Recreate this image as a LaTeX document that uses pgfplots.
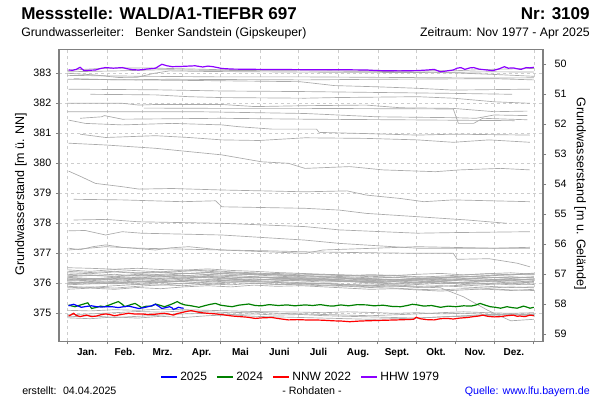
\documentclass[border=0pt]{standalone}
\usepackage{pgfplots}
\pgfplotsset{compat=1.18}
\usepackage{fontspec}
\setmainfont{Liberation Sans}
\definecolor{gl}{RGB}{170,170,170}
\definecolor{axgray}{RGB}{128,128,128}
\definecolor{gridgray}{RGB}{205,205,205}
\definecolor{hhw}{RGB}{140,0,255}
\definecolor{g24}{RGB}{0,128,0}
\definecolor{quelle}{RGB}{0,0,255}
\pgfplotsset{
  greyline/.style={gl, line width=0.5pt, forget plot},
  boxaxis/.style={
    at={(44.25pt,44.025pt)}, anchor=south west,
    scale only axis, width=363pt, height=218.85pt,
    xmin=-6.5, xmax=372.2,
    axis line style={axgray, line width=1pt, -},
    tick align=outside, major tick length=2.25pt,
    tick style={axgray, line width=0.6pt},
    tick label style={font=\fontsize{8}{9}\selectfont},
    /pgf/number format/assume math mode=true,
  }
}
\begin{document}
\begin{tikzpicture}
\useasboundingbox (0,0) rectangle (450pt,300pt);
\begin{axis}[boxaxis,
  ymin=374.067, ymax=383.793,
  ytick={375,376,377,378,379,380,381,382,383},
  xtick={0,31,59,90,120,151,181,212,243,273,304,334,365},
  xticklabels={},
  extra x ticks={15.5,45,74.5,105,135.5,166,196.5,227.5,258,288.5,319,349.5},
  extra x tick labels={Jan.,Feb.,Mrz.,Apr.,Mai,Juni,Juli,Aug.,Sept.,Okt.,Nov.,Dez.},
  extra x tick style={major tick length=0pt, grid=none, xticklabel style={font=\fontsize{7.5}{8}\selectfont\bfseries, yshift=-2pt}},
  xtick pos=bottom, ytick pos=left,
  xmajorgrids, ymajorgrids,
  grid style={gridgray, dash pattern=on 2.25pt off 2.25pt, line width=0.4pt},
  legend style={at={(0.5,-0.122)}, anchor=center, draw=none, fill=none, inner sep=0pt,
    font=\fontsize{9}{10}\selectfont, legend columns=4,
    /tikz/every even column/.append style={column sep=5pt}},
  legend image code/.code={\draw[#1] (0pt,0pt) -- (12pt,0pt);},
]
\addlegendimage{blue, line width=1pt}\addlegendentry{2025}
\addlegendimage{g24, line width=1pt}\addlegendentry{2024}
\addlegendimage{red, line width=1pt}\addlegendentry{NNW 2022}
\addlegendimage{hhw, line width=1pt}\addlegendentry{HHW 1979}
% upper grey lines
\addplot[greyline] coordinates {(0,383.10)(30,383.17)(60,383.18)(90,383.15)(120,383.12)(180,383.12)(240,383.10)(300,383.08)(330,383.13)(365,383.16)};
\addplot[greyline] coordinates {(0,383.05)(40,383.08)(75,383.12)(110,383.10)(186,383.08)(250,383.06)(300,383.03)(330,383.05)(365,383.04)};
\addplot[greyline] coordinates {(0,383.00)(20,382.95)(40,382.86)(55,382.87)(68,383.00)(80,383.08)(110,383.06)(180,383.04)(300,383.02)(340,382.95)(365,382.90)};
\addplot[greyline] coordinates {(0,382.93)(60,382.90)(120,382.88)(186,382.88)(260,382.86)(330,382.84)(365,382.85)};
\addplot[greyline] coordinates {(5,382.82)(40,382.78)(80,382.80)(186,382.78)(240,382.80)(334,382.82)(365,382.78)};
\addplot[greyline] coordinates {(0,382.80)(100,382.76)(182,382.72)(209,382.59)(242,382.55)(274,382.50)(302,382.44)(362,382.47)};
\addplot[greyline] coordinates {(1,382.47)(69,382.45)(121,382.41)(186,382.39)(302,382.33)(348,382.30)};
\addplot[greyline] coordinates {(18,382.30)(69,382.28)(95,382.22)(121,382.19)(186,382.17)(209,382.19)(274,382.22)(302,382.17)(334,382.05)(362,382.00)};
\addplot[greyline] coordinates {(0,382.00)(43,382.00)(56,381.94)(69,381.96)(121,381.96)(147,381.89)(186,381.92)(234,381.94)(261,381.85)(302,381.83)(334,381.72)(360,381.74)};
\addplot[greyline] coordinates {(0,381.72)(100,381.72)(186,381.66)(242,381.55)(302,381.52)(320,381.50)(334,381.61)(360,381.59)};
\addplot[greyline] coordinates {(60,381.84)(121,381.83)(186,381.83)(302,381.81)(306,381.33)(318,381.33)(325,381.50)(360,381.45)};
\addplot[greyline] coordinates {(10,381.50)(27,381.55)(29,381.59)(43,381.47)(121,381.50)(186,381.47)(260,381.45)(350,381.42)};
\addplot[greyline] coordinates {(1,381.44)(14,381.33)(43,381.28)(82,381.33)(121,381.28)(134,381.22)(160,381.14)(195,381.14)(197,381.03)(234,380.99)(274,380.94)(302,380.97)(362,380.94)};
\addplot[greyline] coordinates {(10,380.97)(30,380.86)(69,380.92)(95,380.86)(121,380.78)(150,380.76)(186,380.85)(234,380.83)(274,380.78)(302,380.70)(330,380.78)(362,380.70)};
\addplot[greyline] coordinates {(1,380.67)(30,380.61)(69,380.50)(95,380.39)(121,380.28)(152,380.05)(173,380.00)(186,379.83)(221,379.89)(247,379.78)(288,379.72)(307,379.78)(339,379.83)(362,379.78)};
\addplot[greyline] coordinates {(1,379.74)(11,379.55)(22,379.33)(43,379.22)(56,379.14)(82,379.16)(121,379.11)(186,379.05)(219,379.08)(234,378.94)(260,378.83)(279,378.72)(302,378.78)(362,378.72)};
\addplot[greyline] coordinates {(5,378.80)(43,378.78)(90,378.72)(116,378.75)(121,378.55)(186,378.50)(213,378.44)(234,378.33)(274,378.22)(313,378.11)(344,378.00)};
\addplot[greyline] coordinates {(5,378.11)(30,378.13)(56,378.05)(121,378.00)(186,377.89)(213,377.78)(274,377.67)(302,377.69)(362,377.72)};
\addplot[greyline] coordinates {(1,377.75)(14,377.76)(30,377.61)(43,377.72)(58,377.67)(121,377.61)(186,377.44)(213,377.33)(274,377.17)(362,377.17)};
\addplot[greyline] coordinates {(1,377.17)(10,377.12)(20,377.22)(30,377.28)(43,377.20)(69,377.11)(80,377.18)(95,377.22)(121,377.11)(160,377.08)(186,377.05)(234,377.02)(274,377.00)(302,377.00)(305,376.80)(330,376.82)(352,376.67)(362,376.55)};
\addplot[greyline] coordinates {(1,377.11)(30,377.22)(56,377.17)(90,377.14)(121,377.11)(186,377.00)(200,377.11)(274,377.22)(334,377.17)(362,377.20)};
% cluster
\addplot[greyline] coordinates {(0,376.52)(18,376.50)(37,376.47)(55,376.50)(73,376.46)(91,376.44)(110,376.48)(128,376.43)(146,376.40)(164,376.36)(183,376.33)(201,376.30)(219,376.28)(237,376.25)(256,376.27)(274,376.22)(292,376.20)(310,376.24)(329,376.21)(347,376.18)(365,376.20)};
\addplot[greyline] coordinates {(0,376.35)(18,376.32)(37,376.38)(55,376.33)(73,376.36)(91,376.40)(110,376.44)(128,376.38)(146,376.35)(164,376.30)(183,376.32)(201,376.28)(219,376.25)(237,376.29)(256,376.26)(274,376.30)(292,376.33)(310,376.28)(329,376.32)(347,376.35)(365,376.30)};
\addplot[greyline] coordinates {(0,376.25)(18,376.28)(37,376.22)(55,376.26)(73,376.30)(91,376.34)(110,376.30)(128,376.36)(146,376.32)(164,376.28)(183,376.25)(201,376.22)(219,376.18)(237,376.16)(256,376.20)(274,376.15)(292,376.18)(310,376.22)(329,376.26)(347,376.30)(365,376.28)};
\addplot[greyline] coordinates {(0,376.18)(18,376.14)(37,376.20)(55,376.16)(73,376.12)(91,376.18)(110,376.22)(128,376.26)(146,376.30)(164,376.28)(183,376.22)(201,376.20)(219,376.16)(237,376.12)(256,376.10)(274,376.14)(292,376.12)(310,376.16)(329,376.20)(347,376.18)(365,376.22)};
\addplot[greyline] coordinates {(0,376.12)(18,376.16)(37,376.10)(55,376.14)(73,376.18)(91,376.15)(110,376.20)(128,376.16)(146,376.12)(164,376.15)(183,376.18)(201,376.14)(219,376.10)(237,376.06)(256,376.08)(274,376.04)(292,376.08)(310,376.12)(329,376.10)(347,376.14)(365,376.12)};
\addplot[greyline] coordinates {(0,376.08)(18,376.10)(37,376.06)(55,376.12)(73,376.08)(91,376.14)(110,376.10)(128,376.16)(146,376.20)(164,376.18)(183,376.14)(201,376.10)(219,376.08)(237,376.05)(256,376.00)(274,376.04)(292,376.06)(310,376.02)(329,376.06)(347,376.10)(365,376.06)};
\addplot[greyline] coordinates {(0,376.15)(18,376.12)(37,376.16)(55,376.20)(73,376.24)(91,376.20)(110,376.26)(128,376.22)(146,376.18)(164,376.20)(183,376.16)(201,376.12)(219,376.14)(237,376.10)(256,376.12)(274,376.08)(292,375.98)(310,376.02)(329,376.00)(347,376.04)(365,376.02)};
\addplot[greyline] coordinates {(0,376.02)(18,376.06)(37,376.04)(55,376.00)(73,376.05)(91,376.10)(110,376.06)(128,376.12)(146,376.15)(164,376.10)(183,376.08)(201,376.12)(219,376.06)(237,376.02)(256,376.05)(274,376.00)(292,376.04)(310,375.96)(329,376.00)(347,375.95)(365,375.98)};
\addplot[greyline] coordinates {(0,375.95)(18,375.98)(37,376.00)(55,375.96)(73,376.02)(91,375.98)(110,376.04)(128,376.08)(146,376.04)(164,376.06)(183,376.02)(201,376.00)(219,375.96)(237,375.98)(256,375.94)(274,375.96)(292,376.00)(310,376.04)(329,376.08)(347,376.12)(365,376.15)};
\addplot[greyline] coordinates {(0,375.90)(18,375.86)(37,375.92)(55,375.96)(73,375.94)(91,376.00)(110,375.96)(128,376.02)(146,376.00)(164,375.96)(183,375.98)(201,375.94)(219,375.92)(237,375.88)(256,375.92)(274,375.86)(292,375.90)(310,375.94)(329,375.90)(347,375.86)(365,375.88)};
\addplot[greyline] coordinates {(0,375.85)(18,375.88)(37,375.84)(55,375.90)(73,375.95)(91,375.92)(110,375.98)(128,375.95)(146,376.00)(164,375.97)(183,375.95)(201,375.92)(219,375.90)(237,375.86)(256,375.84)(274,375.80)(292,375.78)(310,375.82)(329,375.80)(347,375.76)(365,375.80)};
\addplot[greyline] coordinates {(0,376.22)(18,376.26)(37,376.24)(55,376.30)(73,376.26)(91,376.32)(110,376.36)(128,376.32)(146,376.28)(164,376.24)(183,376.20)(201,376.22)(219,376.18)(237,376.15)(256,376.12)(274,376.16)(292,376.20)(310,376.18)(329,376.14)(347,376.10)(365,376.14)};
\addplot[greyline] coordinates {(0,376.05)(18,376.00)(37,376.03)(55,376.08)(73,376.04)(91,376.06)(110,376.12)(128,376.08)(146,376.10)(164,376.14)(183,376.12)(201,376.08)(219,376.05)(237,376.10)(256,376.06)(274,376.12)(292,376.16)(310,376.12)(329,376.08)(347,376.04)(365,376.08)};
\addplot[greyline] coordinates {(0,376.30)(18,376.26)(37,376.30)(55,376.24)(73,376.28)(91,376.25)(110,376.30)(128,376.26)(146,376.22)(164,376.20)(183,376.18)(201,376.14)(219,376.16)(237,376.12)(256,376.14)(274,376.10)(292,376.12)(310,376.08)(329,376.12)(347,376.16)(365,376.10)};
\addplot[greyline] coordinates {(0,376.10)(18,376.14)(37,376.18)(55,376.14)(73,376.16)(91,376.22)(110,376.18)(128,376.14)(146,376.10)(164,376.12)(183,376.08)(201,376.04)(219,376.06)(237,376.02)(256,375.98)(274,376.02)(292,376.06)(310,376.00)(329,375.96)(347,376.00)(365,375.96)};
\addplot[greyline] coordinates {(0,375.98)(18,376.02)(37,375.98)(55,376.04)(73,376.08)(91,376.05)(110,376.00)(128,376.04)(146,376.06)(164,376.02)(183,375.98)(201,376.00)(219,375.95)(237,375.92)(256,375.95)(274,375.90)(292,375.92)(310,375.88)(329,375.84)(347,375.88)(365,375.85)};
\addplot[greyline] coordinates {(0,376.00)(18,376.04)(37,376.00)(55,376.06)(73,376.02)(91,376.08)(110,376.12)(128,376.08)(146,376.06)(164,376.03)(183,376.00)(201,375.98)(219,375.95)(237,375.92)(256,375.90)(274,375.88)(292,375.85)(310,375.55)(329,375.10)(347,374.75)(365,374.80)};
\addplot[greyline] coordinates {(0,376.40)(18,376.36)(37,376.40)(55,376.35)(73,376.38)(91,376.32)(110,376.36)(128,376.30)(146,376.32)(164,376.28)(183,376.26)(201,376.24)(219,376.22)(237,376.18)(256,376.20)(274,376.16)(292,376.18)(310,376.22)(329,376.25)(347,376.28)(365,376.32)};
\addplot[greyline] coordinates {(0,376.45)(18,376.40)(37,376.46)(55,376.42)(73,376.38)(91,376.44)(110,376.40)(128,376.36)(146,376.30)(164,376.33)(183,376.28)(201,376.30)(219,376.26)(237,376.22)(256,376.25)(274,376.20)(292,376.24)(310,376.28)(329,376.32)(347,376.28)(365,376.34)};
\addplot[greyline] coordinates {(0,375.80)(18,375.84)(37,375.80)(55,375.86)(73,375.82)(91,375.88)(110,375.92)(128,375.88)(146,375.94)(164,375.90)(183,375.92)(201,375.88)(219,375.84)(237,375.80)(256,375.82)(274,375.78)(292,375.74)(310,375.78)(329,375.82)(347,375.78)(365,375.76)};
\addplot[greyline] coordinates {(0,376.20)(18,376.16)(37,376.12)(55,376.18)(73,376.22)(91,376.26)(110,376.22)(128,376.18)(146,376.22)(164,376.16)(183,376.12)(201,376.16)(219,376.10)(237,376.06)(256,376.08)(274,376.12)(292,376.08)(310,376.14)(329,376.18)(347,376.22)(365,376.18)};
% lower grey lines
\addplot[greyline] coordinates {(0,374.88)(18,374.92)(37,374.86)(55,374.90)(73,374.94)(91,374.98)(110,375.00)(128,374.96)(146,374.98)(164,374.94)(183,374.96)(201,374.92)(219,374.90)(237,374.88)(256,374.86)(274,374.84)(292,374.88)(310,374.92)(329,374.95)(347,374.98)(365,374.96)};
\addplot[greyline] coordinates {(0,374.95)(18,374.98)(37,375.02)(55,375.06)(73,375.04)(91,375.08)(110,375.05)(128,375.02)(146,375.04)(164,375.00)(183,374.98)(201,374.96)(219,374.94)(237,374.92)(256,374.95)(274,374.98)(292,375.02)(310,375.05)(329,375.02)(347,375.00)(365,375.02)};
\addplot[greyline] coordinates {(0,374.85)(18,374.82)(37,374.88)(55,374.84)(73,374.90)(91,374.86)(110,374.92)(128,374.95)(146,374.90)(164,374.88)(183,374.86)(201,374.84)(219,374.82)(237,374.80)(256,374.82)(274,374.84)(292,374.88)(310,374.90)(329,374.93)(347,374.96)(365,374.92)};
\addplot[greyline] coordinates {(0,375.10)(18,375.08)(37,375.12)(55,375.10)(73,375.14)(91,375.12)(110,375.10)(128,375.08)(146,375.06)(164,375.05)(183,375.04)(201,375.02)(219,375.05)(237,375.03)(256,375.00)(274,375.02)(292,374.98)(310,375.00)(329,374.96)(347,374.94)(365,374.98)};
% HHW 1979
\addplot[hhw, line width=0.9pt, forget plot] coordinates {(1,383.11)(4,383.10)(7,383.13)(10,383.20)(13,383.09)(17,383.10)(22,383.11)(26,383.16)(30,383.19)(36,383.17)(43,383.19)(47,383.15)(51,383.12)(56,383.11)(62,383.14)(69,383.17)(74,383.30)(78,383.25)(82,383.22)(90,383.23)(100,383.25)(106,383.21)(110,383.24)(114,383.22)(121,383.16)(129,383.14)(150,383.13)(186,383.12)(210,383.12)(234,383.11)(242,383.09)(260,383.08)(274,383.09)(282,383.11)(287,383.13)(292,383.05)(297,383.08)(302,383.11)(305,383.17)(308,383.19)(311,383.13)(315,383.18)(318,383.19)(322,383.14)(328,383.11)(333,383.09)(338,383.15)(342,383.22)(345,383.17)(349,383.18)(352,383.15)(355,383.13)(359,383.19)(362,383.18)(365,383.20)};
% NNW 2022
\addplot[red, line width=0.9pt, forget plot] coordinates {(1,374.91)(3,374.95)(5,375.00)(7,374.93)(10,374.89)(13,374.92)(15,374.94)(19,374.89)(23,374.91)(26,374.95)(30,374.98)(34,374.95)(37,374.92)(41,374.95)(45,374.98)(48,375.00)(52,374.98)(58,374.98)(63,374.96)(69,374.97)(73,374.99)(76,375.00)(80,374.97)(83,374.94)(86,374.99)(89,375.02)(93,375.06)(97,375.09)(101,375.05)(105,375.02)(110,375.00)(116,374.98)(122,374.95)(129,374.91)(135,374.89)(141,374.87)(147,374.83)(153,374.85)(160,374.86)(166,374.82)(173,374.78)(180,374.79)(186,374.78)(192,374.78)(200,374.77)(208,374.75)(215,374.74)(221,374.72)(228,374.74)(234,374.75)(242,374.76)(250,374.77)(258,374.78)(265,374.79)(271,374.80)(273,374.87)(276,374.82)(281,374.79)(287,374.78)(292,374.82)(297,374.83)(302,374.81)(307,374.84)(313,374.86)(318,374.89)(322,374.91)(325,374.94)(329,374.90)(334,374.88)(339,374.89)(344,374.92)(349,374.94)(352,374.90)(354,374.91)(358,374.89)(362,374.94)(365,374.92)};
% 2024
\addplot[g24, line width=0.9pt, forget plot] coordinates {(1,375.28)(3,375.25)(6,375.22)(9,375.26)(12,375.30)(16,375.35)(19,375.16)(23,375.20)(26,375.24)(29,375.22)(33,375.28)(36,375.33)(40,375.39)(43,375.30)(45,375.22)(49,375.28)(53,375.33)(56,375.25)(58,375.19)(62,375.24)(66,375.24)(69,375.31)(73,375.26)(76,375.22)(80,375.28)(83,375.33)(86,375.39)(89,375.32)(92,375.28)(97,375.25)(103,375.20)(108,375.26)(112,375.30)(116,375.33)(120,375.27)(125,375.24)(129,375.22)(134,375.27)(138,375.29)(142,375.31)(147,375.26)(152,375.25)(158,375.29)(165,375.26)(172,375.28)(178,375.25)(186,375.28)(192,375.26)(198,375.29)(204,375.25)(208,375.24)(214,375.28)(220,375.25)(227,375.29)(234,375.28)(240,375.25)(247,375.27)(254,375.23)(261,375.22)(266,375.26)(270,375.30)(274,375.28)(279,375.24)(285,375.26)(292,375.20)(298,375.24)(304,375.22)(310,375.25)(316,375.24)(320,375.28)(323,375.33)(327,375.27)(331,375.22)(335,375.20)(339,375.17)(344,375.22)(348,375.19)(352,375.17)(357,375.24)(360,375.20)(362,375.17)(365,375.20)};
% 2025
\addplot[blue, line width=0.9pt, forget plot] coordinates {(1,375.25)(3,375.28)(5,375.30)(8,375.25)(11,375.20)(15,375.23)(19,375.25)(23,375.22)(27,375.21)(30,375.22)(35,375.22)(40,375.19)(44,375.22)(48,375.24)(52,375.20)(56,375.16)(60,375.19)(63,375.22)(66,375.25)(69,375.30)(72,375.22)(74,375.16)(77,375.19)(80,375.22)(82,375.18)(83,375.13)(85,375.16)(87,375.20)(89,375.18)(91,375.17)};
\end{axis}
\begin{axis}[boxaxis,
  ymin=49.517, ymax=59.243, y dir=reverse,
  hide x axis, ytick pos=right,
  ytick={50,51,52,53,54,55,56,57,58,59},
  yticklabel style={xshift=3pt},
]
\addplot[draw=none] coordinates {(0,50)};
\end{axis}
\begin{scope}[x=0.75pt, y=-0.75pt, yshift=300pt]
\node[anchor=base west, inner sep=0pt] at (21,19.5) {\fontsize{12.8}{14}\selectfont\bfseries Messstelle: WALD/A1-TIEFBR 697};
\node[anchor=base east, inner sep=0pt] at (590,19.5) {\fontsize{12.8}{14}\selectfont\bfseries Nr: 3109};
\node[anchor=base west, inner sep=0pt] at (21,37) {\fontsize{9.2}{10}\selectfont Grundwasserleiter:\hspace{0.9em}Benker Sandstein (Gipskeuper)};
\node[anchor=base east, inner sep=0pt] at (590,37) {\fontsize{9.2}{10}\selectfont Zeitraum: Nov 1977 - Apr 2025};
\node[rotate=90, inner sep=0pt] at (21,194) {\fontsize{9.4}{10}\selectfont Grundwasserstand [m ü. NN]};
\node[rotate=-90, inner sep=0pt] at (580,194) {\fontsize{9.4}{10}\selectfont Grundwasserstand [m u. Gelände]};
\node[anchor=base west, inner sep=0pt] at (22,394) {\fontsize{8}{9}\selectfont erstellt:\hspace{0.6em}04.04.2025};
\node[anchor=base, inner sep=0pt] at (312,394) {\fontsize{8}{9}\selectfont - Rohdaten -};
\node[anchor=base east, inner sep=0pt, text=quelle] at (590,394) {\fontsize{8}{9}\selectfont Quelle: www.lfu.bayern.de};
\end{scope}
\end{tikzpicture}
\end{document}
